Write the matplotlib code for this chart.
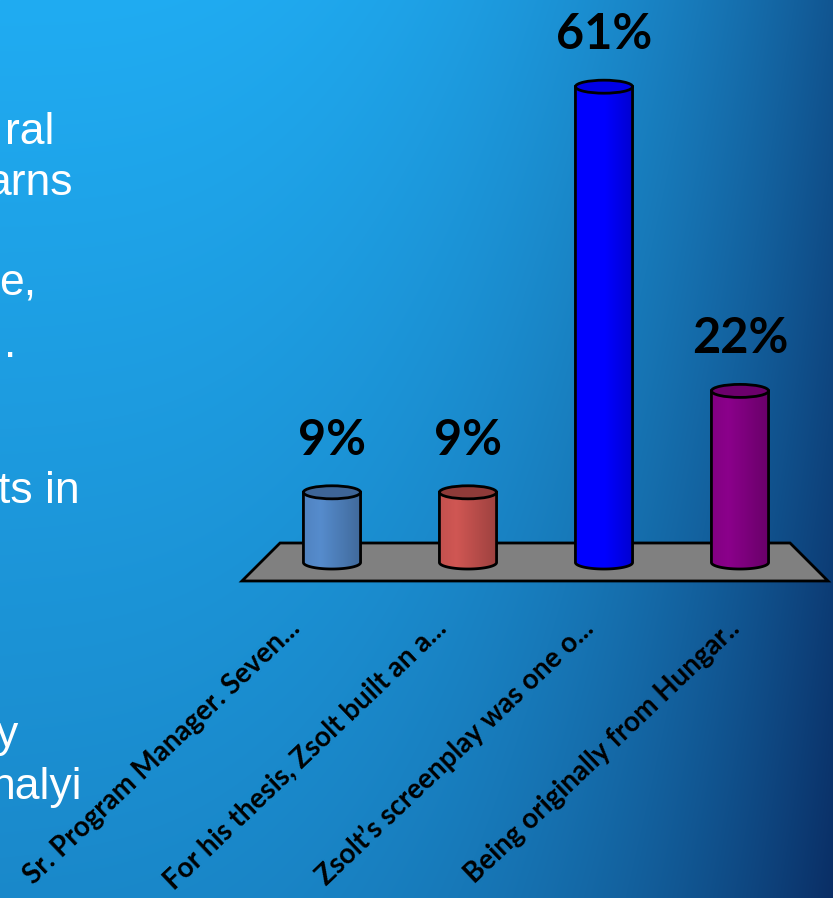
import numpy as np
import matplotlib
matplotlib.use('Agg')
import matplotlib.pyplot as plt
from matplotlib.patches import Polygon, Ellipse
from matplotlib.colors import to_rgb

W, H = 833, 898

categories = ['Sr. Program Manager. Seven...',
              'For his thesis, Zsolt built an a...',
              'Zsolt\u2019s screenplay was one o...',
              'Being originally from Hungar..']
values = [9, 9, 61, 22]
bar_colors = ['#4f81bd', '#c0504d', '#0000ff', '#800080']
cap_colors = ['#3e6597', '#8f3b39', '#0000e6', '#6c006c']

# bits of slide text that run in from the left edge
side_words = ['ral', 'arns', 'e,', '.', 'ts in', 'y', 'halyi']
side_right = [54, 73, 36, 16, 80, 18, 82]
side_base = [144, 195, 295, 357, 503, 747, 799]

fig = plt.figure(figsize=(W / 100, H / 100), dpi=100)

# slide background, bright cyan top-left fading to navy bottom-right
bg = fig.add_axes([0, 0, 1, 1])
bg.set_xlim(0, W)
bg.set_ylim(H, 0)
bg.axis('off')
u = np.linspace(0, 1, W)[None, :]
v = np.linspace(0, 1, H)[:, None]
t = np.clip(0.68 * u**3 + 0.28 * v + 0.03 * u * v, 0, 1)
bright = np.array([32, 172, 242]) / 255
dark = np.array([10, 45, 100]) / 255
img = bright + t[..., None] * (dark - bright)
bg.imshow(img, extent=[0, W, H, 0], aspect='auto', zorder=0)

for s, x, y in zip(side_words, side_right, side_base):
    bg.text(x, y, s, ha='right', va='baseline', color='white',
            fontsize=32, family='Liberation Sans')

# chart area: x in category units, y in percent
ax = fig.add_axes([230 / W, (H - 620) / H, 603 / W, 620 / H])
ax.set_xlim(-0.75, -0.75 + 603 / 136)
ax.set_ylim(-57.5 / 7.8, 562.5 / 7.8)
ax.axis('off')

# floor
fl, fr = -0.662, 3.647
floor = Polygon([(-0.382, 2.5), (3.368, 2.5), (fr, -2.37), (fl, -2.37)],
                closed=True, facecolor='#808080', edgecolor='black',
                lw=2, zorder=1, clip_on=False)
ax.add_patch(floor)

hw = 0.21   # half width of a cylinder
eh = 1.67   # height of the elliptical caps
theta = np.linspace(np.pi, 2 * np.pi, 60)
shade = np.concatenate([np.linspace(1.02, 1.08, 12), np.linspace(1.08, 0.82, 28)])

for i, (val, c, cc) in enumerate(zip(values, bar_colors, cap_colors)):
    pts = [(i - hw, val), (i - hw, 0)]
    pts += list(zip(i + hw * np.cos(theta), eh / 2 * np.sin(theta)))
    pts += [(i + hw, val)]
    body = Polygon(pts, closed=True, facecolor='none', edgecolor='none', zorder=2)
    ax.add_patch(body)
    col = np.clip(np.array(to_rgb(c))[None, None, :] * shade[None, :, None], 0, 1)
    im = ax.imshow(col, extent=[i - hw, i + hw, -eh / 2, val],
                   aspect='auto', zorder=2, interpolation='bilinear')
    im.set_clip_path(body)
    ax.add_patch(Polygon(pts, closed=True, fill=False, edgecolor='black',
                         lw=2, zorder=3))
    ax.add_patch(Ellipse((i, val), 2 * hw, eh, facecolor=cc,
                         edgecolor='black', lw=2, zorder=4))
    ax.text(i, val + 4.8, f'{val}%', ha='center', va='baseline',
            fontsize=35, fontweight='bold', family='Lato', color='black')

    # category labels sit along the front edge of the floor
    fx = fl + (fr - fl) * (i + 0.5) / len(values)
    ax.text(fx - 0.14, -7.9, categories[i], rotation=43.6, rotation_mode='anchor',
            ha='right', va='center', fontsize=20, fontweight='bold',
            family='Lato', color='black')

ax.set_aspect('auto')
fig.savefig('out.png', dpi=100)
